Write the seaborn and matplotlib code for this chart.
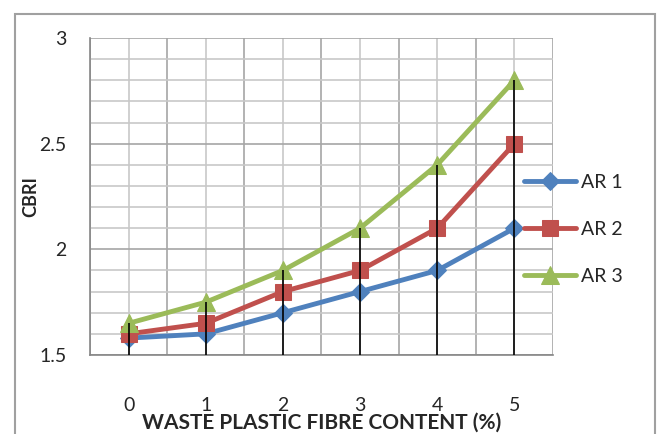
import numpy as np
import pandas as pd
import matplotlib
matplotlib.use('Agg')
import matplotlib.pyplot as plt
import seaborn as sns
from matplotlib.patches import Rectangle

# 데이터
fibre = [0, 1, 2, 3, 4, 5]
ar1 = [1.58, 1.60, 1.70, 1.80, 1.90, 2.10]
ar2 = [1.60, 1.65, 1.80, 1.90, 2.10, 2.50]
ar3 = [1.65, 1.75, 1.90, 2.10, 2.40, 2.80]
series_names = ['AR 1', 'AR 2', 'AR 3']
y_ticks = [1.5, 2, 2.5, 3]

df = pd.DataFrame({'fibre': fibre * 3,
                   'cbri': ar1 + ar2 + ar3,
                   'series': [n for n in series_names for _ in fibre]})

sns.set_style('white')
plt.rcParams['font.family'] = ['Lato', 'DejaVu Sans']

fig = plt.figure(figsize=(6.58, 4.34), dpi=100)
ax = fig.add_axes([90 / 658, 1 - 355 / 434, 463 / 658, 317 / 434])

# 바깥 테두리
fig.patches.append(Rectangle((15 / 658, -0.05), 640 / 658, 1 - 14 / 434 + 0.05,
                             transform=fig.transFigure, fill=False,
                             edgecolor='#a0a0a0', lw=1.5, zorder=0))

palette = {'AR 1': '#4F81BD', 'AR 2': '#C0504D', 'AR 3': '#9BBB59'}
markers = {'AR 1': 'D', 'AR 2': 's', 'AR 3': '^'}
sizes = {'AR 1': 9, 'AR 2': 12, 'AR 3': 13}

# 드롭 라인
ax.vlines(fibre, 1.5, ar3, color='black', lw=1.2, zorder=4)

for name in series_names:
    sub = df[df['series'] == name]
    sns.lineplot(data=sub, x='fibre', y='cbri', ax=ax, color=palette[name],
                 marker=markers[name], markersize=sizes[name],
                 markeredgecolor=palette[name], lw=3.5, label=name, zorder=3)

ax.set_xlim(-0.5, 5.5)
ax.set_ylim(1.5, 3)
ax.set_xticks(fibre)
ax.set_xticks(np.arange(-0.5, 6, 1), minor=True)
ax.set_yticks(y_ticks)
ax.set_yticklabels(['1.5', '2', '2.5', '3'])
ax.set_yticks(np.arange(1.5, 3.01, 0.1), minor=True)

ax.grid(True, which='major', axis='y', color='#a6a6a6', lw=1.2)
ax.grid(True, which='minor', axis='y', color='#c8c8c8', lw=1.2)
ax.grid(True, which='minor', axis='x', color='#a6a6a6', lw=1.2)
ax.grid(True, which='major', axis='x', color='#c8c8c8', lw=1.2)
ax.set_axisbelow(True)

for s in ['top', 'right']:
    ax.spines[s].set_visible(False)
for s in ['left', 'bottom']:
    ax.spines[s].set_color('#868686')
    ax.spines[s].set_linewidth(1.2)

ax.tick_params(axis='x', which='both', length=0, pad=30, labelsize=14)
ax.tick_params(axis='y', which='major', length=7, width=1.2, color='#868686',
               direction='out', labelsize=14, pad=10)
ax.tick_params(axis='y', which='minor', length=0)

ax.set_xlabel('WASTE PLASTIC FIBRE CONTENT (%)', fontsize=15, fontweight='bold')
ax.set_ylabel('CBRI', fontsize=13, fontweight='bold')
ax.xaxis.set_label_coords(0.5, (355 - 413) / 317)
ax.yaxis.set_label_coords((39 - 90) / 463, 0.5)

ax.legend(loc='upper left', bbox_to_anchor=(514 / 658, 1 - 164 / 434),
          bbox_transform=fig.transFigure, frameon=False, fontsize=14,
          handlelength=2.7, labelspacing=1.55, borderpad=0, handletextpad=0.25)

fig.savefig('out.png', dpi=100)
